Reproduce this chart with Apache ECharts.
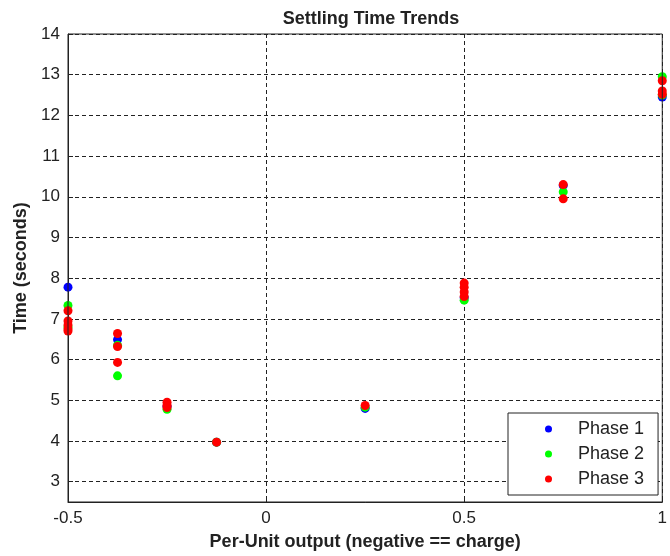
<!DOCTYPE html>
<html>
<head>
<meta charset="utf-8">
<script src="https://cdn.jsdelivr.net/npm/echarts@6/dist/echarts.min.js"></script>
<style>html,body{margin:0;padding:0;background:#fff}#c{width:670px;height:556px}</style>
</head>
<body>
<div id="c"></div>
<script>
var xTicks = [-0.5, 0, 0.5, 1];
var yTicks = [3, 4, 5, 6, 7, 8, 9, 10, 11, 12, 13, 14];
var seriesNames = ['Phase 1', 'Phase 2', 'Phase 3'];
var phase1 = [[-0.5, 7.78], [-0.375, 6.49], [-0.25, 4.85], [-0.125, 3.97], [0.25, 4.8], [0.5, 7.52], [0.75, 10.28], [1, 12.45]];
var phase2 = [[-0.5, 7.33], [-0.5, 6.8], [-0.375, 6.35], [-0.375, 5.6], [-0.25, 4.78], [-0.125, 3.97], [0.25, 4.83], [0.5, 7.46], [0.75, 10.12], [1, 12.95], [1, 12.5]];
var phase3 = [[-0.5, 7.2], [-0.5, 6.95], [-0.5, 6.85], [-0.5, 6.75], [-0.5, 6.7], [-0.375, 6.64], [-0.375, 6.32], [-0.375, 5.93], [-0.25, 4.95], [-0.25, 4.88], [-0.25, 4.82], [-0.125, 3.97], [0.25, 4.87], [0.5, 7.88], [0.5, 7.78], [0.5, 7.66], [0.5, 7.55], [0.75, 10.3], [0.75, 9.95], [1, 12.85], [1, 12.6], [1, 12.52]];
var colors = ['#0000ff', '#00ff00', '#ff0000'];

var font = 'Liberation Sans, Arial, sans-serif';
var chart = echarts.init(document.getElementById('c'), null, {renderer: 'canvas'});
var dash = {color: '#222', type: [4, 3], width: 1};
var mk = function (name, data, i) {
  return {
    name: name, type: 'scatter', data: data, symbol: 'circle', symbolSize: 9,
    itemStyle: {color: colors[i], opacity: 1}, clip: false, z: 3 + i
  };
};
chart.setOption({
  animation: false,
  backgroundColor: '#fff',
  title: {
    text: 'Settling Time Trends', left: 366, top: 5, textAlign: 'center',
    textStyle: {fontFamily: font, fontSize: 18, fontWeight: 'bold', color: '#222'}
  },
  grid: {left: 68, right: 5, top: 34, bottom: 53, show: true, borderColor: '#222', borderWidth: 1, backgroundColor: 'transparent', z: 10},
  legend: {
    orient: 'vertical', left: 508, top: 413,
    data: seriesNames,
    icon: 'circle', itemWidth: 7, itemHeight: 7, itemGap: 5,
    padding: [6, 14, 6, 37],
    borderColor: '#222', borderWidth: 1, backgroundColor: '#fff',
    textStyle: {fontFamily: font, fontSize: 18, color: '#222', padding: [0, 0, 0, 21], lineHeight: 20},
    z: 20
  },
  xAxis: {
    type: 'value', min: -0.5, max: 1, interval: 0.5,
    name: 'Per-Unit output (negative == charge)', nameLocation: 'middle', nameGap: 31,
    nameTextStyle: {fontFamily: font, fontSize: 18, fontWeight: 'bold', color: '#222'},
    axisLine: {show: true, onZero: false, lineStyle: {color: '#222'}},
    axisTick: {show: true, inside: true, length: 5, lineStyle: {color: '#222'}},
    axisLabel: {fontFamily: font, fontSize: 17, color: '#222', margin: 8,
      formatter: function (v) { return xTicks.indexOf(v) >= 0 ? String(v) : ''; }},
    splitLine: {show: true, lineStyle: dash}
  },
  yAxis: {
    type: 'value', min: 2.5, max: 14,
    name: 'Time (seconds)', nameLocation: 'middle', nameGap: 36, nameRotate: 90,
    nameTextStyle: {fontFamily: font, fontSize: 18, fontWeight: 'bold', color: '#222'},
    axisLine: {show: true, onZero: false, lineStyle: {color: '#222'}},
    axisTick: {show: true, inside: true, length: 5, lineStyle: {color: '#222'}, customValues: yTicks},
    axisLabel: {fontFamily: font, fontSize: 17, color: '#222', margin: 8, customValues: yTicks},
    splitLine: {show: true, lineStyle: dash}
  },
  series: [mk(seriesNames[0], phase1, 0), mk(seriesNames[1], phase2, 1), mk(seriesNames[2], phase3, 2)]
});
</script>
</body>
</html>
